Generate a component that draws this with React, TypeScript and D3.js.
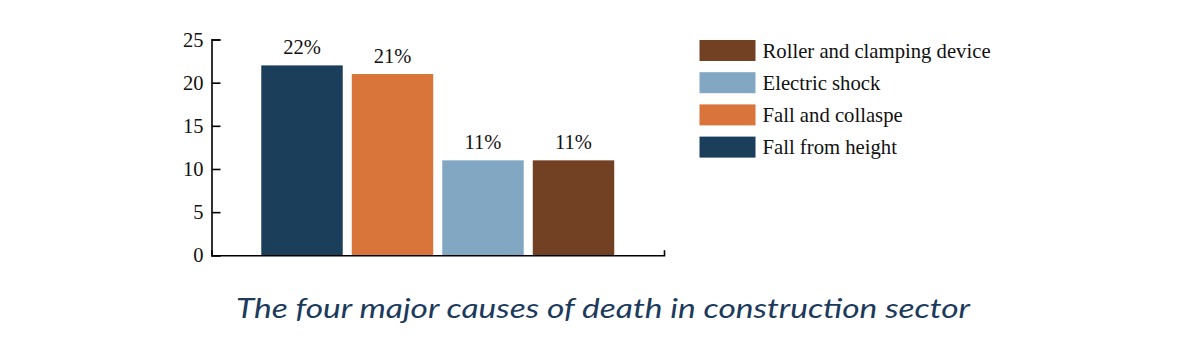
import React, { useEffect, useRef } from "react";
import * as d3 from "d3";

// bar order as drawn left to right
const causes = ["Fall from height", "Fall and collaspe", "Electric shock", "Roller and clamping device"];
const percents = [22, 21, 11, 11];
const colors = ["#1b3f5a", "#d9753a", "#82a7c2", "#724022"];
// legend lists the causes bottom-up
const legendOrder = ["Roller and clamping device", "Electric shock", "Fall and collaspe", "Fall from height"];
const yTicks = [0, 5, 10, 15, 20, 25];
const title = "The four major causes of death in construction sector";

const App = () => {
  const ref = useRef<SVGSVGElement>(null);

  useEffect(() => {
    const svg = d3.select(ref.current);
    svg.selectAll("*").remove();

    const x = d3.scaleBand<string>().domain(causes).range([211.5, 664]).paddingInner(0.1).paddingOuter(0.55);
    const y = d3.scaleLinear().domain([0, 25]).range([255.3, 39.5]);
    const color = d3.scaleOrdinal<string, string>().domain(causes).range(colors);
    const serif = "'Liberation Serif', 'Times New Roman', serif";

    // bars
    svg.append("g")
      .selectAll("rect")
      .data(causes)
      .enter()
      .append("rect")
      .attr("x", (d) => x(d)!)
      .attr("y", (d, i) => y(percents[i]))
      .attr("width", x.bandwidth())
      .attr("height", (d, i) => y(0) - y(percents[i]))
      .attr("fill", (d) => color(d));

    // value labels
    svg.append("g")
      .selectAll("text")
      .data(causes)
      .enter()
      .append("text")
      .attr("x", (d) => x(d)! + x.bandwidth() / 2)
      .attr("y", (d, i) => y(percents[i]) - 11.5)
      .attr("text-anchor", "middle")
      .style("font-family", serif)
      .style("font-size", "20.5px")
      .attr("fill", "#111")
      .text((d, i) => `${percents[i]}%`);

    // y axis, ticks point inward
    const yAxis = svg.append("g")
      .attr("transform", "translate(211.5,0)")
      .call(d3.axisLeft(y).tickValues(yTicks).tickSize(-9).tickSizeOuter(-9).tickPadding(8));
    yAxis.selectAll("path, line").attr("stroke", "#000").attr("stroke-width", 1.6);
    yAxis.selectAll("text")
      .style("font-family", serif)
      .style("font-size", "20.5px")
      .attr("fill", "#111");

    // x axis, only the baseline with a small end tick
    const xAxis = svg.append("g")
      .attr("transform", `translate(0,${y(0)})`)
      .call(d3.axisBottom(x).tickValues([]).tickSizeOuter(-5));
    xAxis.selectAll("path").attr("stroke", "#000").attr("stroke-width", 1.6);

    // legend
    const legend = svg.append("g").attr("transform", "translate(699.5,40)");
    legendOrder.forEach((name, i) => {
      const row = legend.append("g").attr("transform", `translate(0,${i * 32.2})`);
      row.append("rect")
        .attr("width", 56)
        .attr("height", 21)
        .attr("fill", color(name));
      row.append("text")
        .attr("x", 63)
        .attr("y", 10.5)
        .attr("dy", "0.35em")
        .style("font-family", serif)
        .style("font-size", "20.7px")
        .attr("fill", "#111")
        .text(name);
    });

    // caption
    svg.append("text")
      .attr("x", 236)
      .attr("y", 318)
      .attr("textLength", 734)
      .attr("lengthAdjust", "spacingAndGlyphs")
      .style("font-family", "Lato, 'Open Sans', sans-serif")
      .style("font-style", "italic")
      .style("font-size", "27px")
      .attr("fill", "#1b3a5c")
      .text(title);
  }, []);

  return (
    <svg
      ref={ref}
      width={1200}
      height={361}
      style={{ position: "absolute", left: 0, top: 0, background: "#fff" }}
    />
  );
};

export default App;
